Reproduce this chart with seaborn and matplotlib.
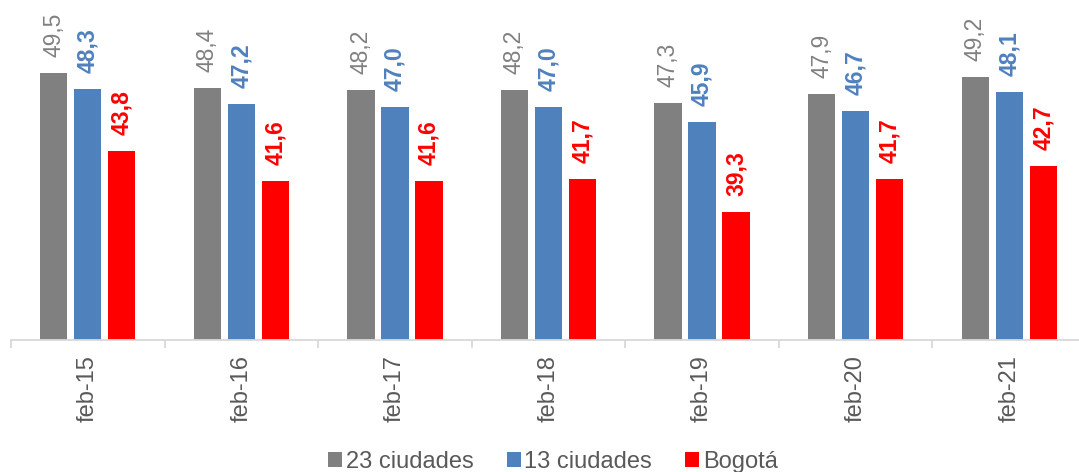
import numpy as np
import matplotlib
matplotlib.use("Agg")
import matplotlib.pyplot as plt
import seaborn as sns
import pandas as pd
from matplotlib.patches import Patch

fechas = ["feb-15", "feb-16", "feb-17", "feb-18", "feb-19", "feb-20", "feb-21"]
series = ["23 ciudades", "13 ciudades", "Bogotá"]
ciudades_23 = [49.5, 48.4, 48.2, 48.2, 47.3, 47.9, 49.2]
ciudades_13 = [48.3, 47.2, 47.0, 47.0, 45.9, 46.7, 48.1]
bogota = [43.8, 41.6, 41.6, 41.7, 39.3, 41.7, 42.7]
colores = ["#808080", "#4F81BD", "#FF0000"]

sns.set_style("white")
plt.rcParams["font.family"] = ["Liberation Sans", "DejaVu Sans"]

# long form for seaborn
df = pd.DataFrame({
    "fecha": fechas * 3,
    "serie": [series[0]] * 7 + [series[1]] * 7 + [series[2]] * 7,
    "valor": ciudades_23 + ciudades_13 + bogota,
})

fig = plt.figure(figsize=(10.79, 4.72), dpi=100)
ax = fig.add_axes([11 / 1079, 1 - 339.5 / 472, 1075 / 1079, 339.5 / 472])

sns.barplot(data=df, x="fecha", y="valor", hue="serie", order=fechas, hue_order=series,
            palette=colores, saturation=1, width=0.665, gap=0.2, linewidth=0,
            ax=ax, legend=False)

ax.set_ylim(30, 54.8)
ax.set_xlim(-0.5, 6.5)

# value labels
for cont, serie, col in zip(ax.containers, series, colores):
    vals = df[df["serie"] == serie]["valor"].tolist()
    etiquetas = [f"{v:.1f}".replace(".", ",") for v in vals]
    peso = "normal" if serie == "23 ciudades" else "bold"
    ax.bar_label(cont, labels=etiquetas, rotation=90, padding=11.5, fontsize=16.5,
                 color=col, fontweight=peso)

# axes styling
for s in ["top", "right", "left"]:
    ax.spines[s].set_visible(False)
ax.spines["bottom"].set_color("#D9D9D9")
ax.spines["bottom"].set_linewidth(1.3)
ax.set_yticks([])
ax.set_xlabel("")
ax.set_ylabel("")
ax.set_xticks(range(len(fechas)))
ax.set_xticklabels(fechas, rotation=90, fontsize=17, color="#595959")
ax.set_xticks(np.arange(-0.5, 7, 1), minor=True)
ax.tick_params(axis="x", which="both", bottom=True)
ax.tick_params(axis="x", which="major", length=0, pad=11)
ax.tick_params(axis="x", which="minor", length=6, width=1.3, color="#D9D9D9")

handles = [Patch(facecolor=c, edgecolor="none") for c in colores]
fig.legend(handles, series, loc="lower center", bbox_to_anchor=(553 / 1079, -0.047), ncol=3,
           frameon=False, fontsize=17, handlelength=0.6, handleheight=0.6,
           handletextpad=0.15, columnspacing=1.4, labelcolor="#595959")

fig.savefig("out.png", dpi=100)
